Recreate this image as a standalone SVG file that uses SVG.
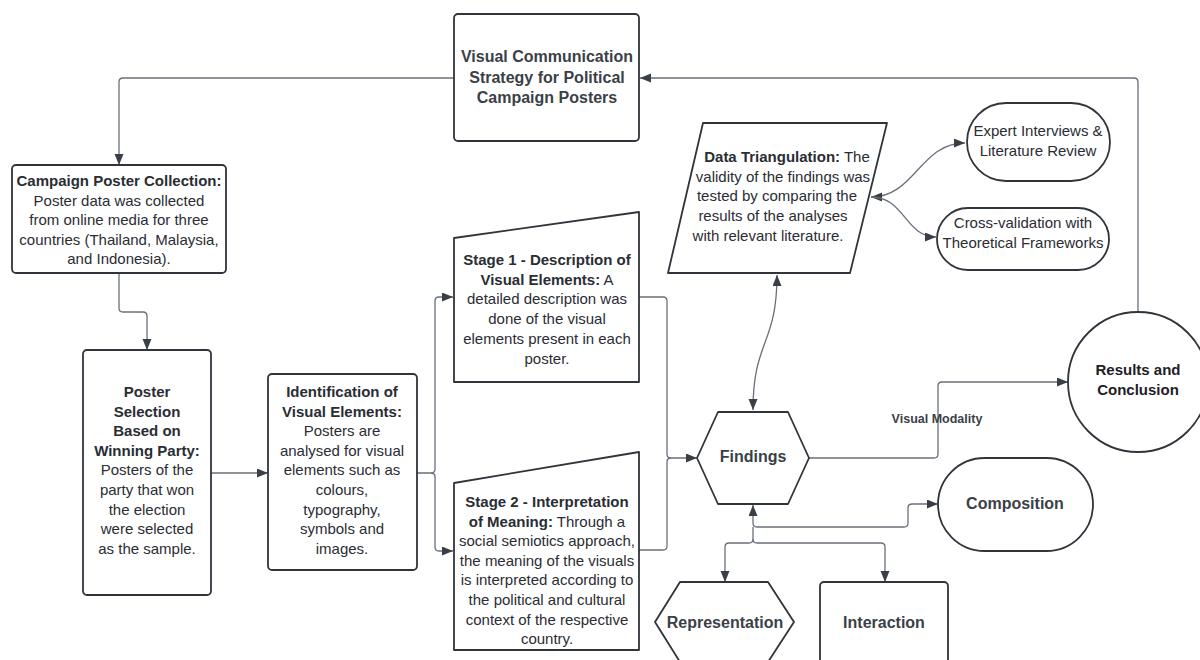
<svg xmlns="http://www.w3.org/2000/svg" width="1200" height="660" viewBox="0 0 1200 660">
<style>
.shape{fill:#fff;stroke:#30343b;stroke-width:1.8;stroke-linejoin:round}
.conn{fill:none;stroke:#6a707a;stroke-width:1.3}
text{font-family:"Liberation Sans",Arial,sans-serif;font-size:15px;fill:#2a2d33;text-anchor:middle}
.b{font-weight:bold}
.t16{font-size:16px;font-weight:bold;fill:#3b3f47}
.lbl{font-size:12.5px;font-weight:bold;fill:#3b3f47}
</style>
<defs>
<marker id="ah" markerUnits="userSpaceOnUse" markerWidth="12" markerHeight="10" refX="11" refY="4.5" orient="auto-start-reverse">
<path d="M0,0 L11,4.5 L0,9 z" fill="#3a3f47"/>
</marker>
</defs>
<g id="connectors">
<path class="conn" d="M454 78 L123 78 Q119 78 119 82 L119 165" marker-end="url(#ah)"/>
<path class="conn" d="M1138 312 L1138 82 Q1138 78 1134 78 L640 78" marker-end="url(#ah)"/>
<path class="conn" d="M119 273 L119 308 Q119 312 123 312 L143 312 Q147 312 147 316 L147 350" marker-end="url(#ah)"/>
<path class="conn" d="M211 473 L268 473" marker-end="url(#ah)"/>
<path class="conn" d="M417 473 L431 473 Q435 473 435 469 L435 301 Q435 297 439 297 L453 297" marker-end="url(#ah)"/>
<path class="conn" d="M431 473 Q435 473 435 477 L435 547 Q435 551 439 551 L453 551" marker-end="url(#ah)"/>
<path class="conn" d="M639 297 L663 297 Q667 297 667 301 L667 454 Q667 458 671 458 L697 458" marker-end="url(#ah)"/>
<path class="conn" d="M639 550 L663 550 Q667 550 667 546 L667 462 Q667 458 671 458"/>
<path class="conn" d="M753 410 C753 340 777 345 777 275" marker-start="url(#ah)" marker-end="url(#ah)"/>
<path class="conn" d="M871 197 C915 197 920 143 965 143" marker-start="url(#ah)" marker-end="url(#ah)"/>
<path class="conn" d="M871 197 C905 197 905 237 936 237" marker-end="url(#ah)"/>
<path class="conn" d="M809 458 L934 458 Q938 458 938 454 L938 386 Q938 382 942 382 L1068 382" marker-end="url(#ah)"/>
<path class="conn" d="M753 505 L753 523 Q753 527 757 527 L904 527 Q908 527 908 523 L908 508 Q908 504 912 504 L938 504" marker-start="url(#ah)" marker-end="url(#ah)"/>
<path class="conn" d="M753 527 L753 539 Q753 543 749 543 L729 543 Q725 543 725 547 L725 582" marker-end="url(#ah)"/>
<path class="conn" d="M753 539 Q753 543 757 543 L881 543 Q885 543 885 547 L885 582" marker-end="url(#ah)"/>
<text class="lbl" x="937" y="422.5">Visual Modality</text>
</g>
<g id="strategy">
<rect class="shape" x="454" y="14" width="185" height="127" rx="4"/>
<text class="t16" x="547" y="62">Visual Communication</text>
<text class="t16" x="547" y="82.5">Strategy for Political</text>
<text class="t16" x="547" y="103">Campaign Posters</text>
</g>
<g id="collection">
<rect class="shape" x="12" y="165" width="214" height="108" rx="4"/>
<text class="b" x="119" y="186">Campaign Poster Collection:</text>
<text x="119" y="205.6">Poster data was collected</text>
<text x="119" y="225.2">from online media for three</text>
<text x="119" y="244.8">countries (Thailand, Malaysia,</text>
<text x="119" y="264.4">and Indonesia).</text>
</g>
<g id="selection">
<rect class="shape" x="83" y="350" width="128" height="245" rx="4"/>
<text class="b" x="147" y="397">Poster</text>
<text class="b" x="147" y="416.6">Selection</text>
<text class="b" x="147" y="436.2">Based on</text>
<text class="b" x="147" y="455.8">Winning Party:</text>
<text x="147" y="475.4">Posters of the</text>
<text x="147" y="495">party that won</text>
<text x="147" y="514.6">the election</text>
<text x="147" y="534.2">were selected</text>
<text x="147" y="553.8">as the sample.</text>
</g>
<g id="identification">
<rect class="shape" x="268" y="374" width="149" height="196" rx="4"/>
<text class="b" x="342" y="397">Identification of</text>
<text class="b" x="342" y="416.6">Visual Elements:</text>
<text x="342" y="436.2">Posters are</text>
<text x="342" y="455.8">analysed for visual</text>
<text x="342" y="475.4">elements such as</text>
<text x="342" y="495">colours,</text>
<text x="342" y="514.6">typography,</text>
<text x="342" y="534.2">symbols and</text>
<text x="342" y="553.8">images.</text>
</g>
<g id="stage1">
<polygon class="shape" points="454,238 639,212 639,382 454,382"/>
<text class="b" x="547" y="265">Stage 1 - Description of</text>
<text x="547" y="284.7"><tspan class="b">Visual Elements:</tspan> A</text>
<text x="547" y="304.4">detailed description was</text>
<text x="547" y="324.1">done of the visual</text>
<text x="547" y="343.8">elements present in each</text>
<text x="547" y="363.5">poster.</text>
</g>
<g id="stage2">
<polygon class="shape" points="454,483 639,452 639,650 454,650"/>
<text class="b" x="547" y="507">Stage 2 - Interpretation</text>
<text x="547" y="526.6"><tspan class="b">of Meaning:</tspan> Through a</text>
<text x="547" y="546.2">social semiotics approach,</text>
<text x="547" y="565.8">the meaning of the visuals</text>
<text x="547" y="585.4">is interpreted according to</text>
<text x="547" y="605">the political and cultural</text>
<text x="547" y="624.6">context of the respective</text>
<text x="547" y="644.2">country.</text>
</g>
<g id="triangulation">
<polygon class="shape" points="703,123 887,123 850,273 668,273"/>
<text x="787" y="162"><tspan class="b">Data Triangulation:</tspan> The</text>
<text x="783" y="181.7">validity of the findings was</text>
<text x="777" y="201.4">tested by comparing the</text>
<text x="773" y="221.1">results of the analyses</text>
<text x="768" y="240.8">with relevant literature.</text>
</g>
<g id="expert">
<rect class="shape" x="967" y="103" width="143" height="78" rx="39"/>
<text x="1038" y="136">Expert Interviews &amp;</text>
<text x="1038" y="155.5">Literature Review</text>
</g>
<g id="crossval">
<rect class="shape" x="937" y="208" width="172" height="62" rx="31"/>
<text x="1023" y="228">Cross-validation with</text>
<text x="1023" y="248">Theoretical Frameworks</text>
</g>
<g id="results">
<circle class="shape" cx="1138" cy="382" r="70"/>
<text class="b" x="1138" y="374.5" style="fill:#1e2025">Results and</text>
<text class="b" x="1138" y="394.5" style="fill:#1e2025">Conclusion</text>
</g>
<g id="findings">
<polygon class="shape" points="697,458 718,412 788,412 809,458 788,504 718,504"/>
<text class="t16" x="753" y="461.5">Findings</text>
</g>
<g id="composition">
<rect class="shape" x="938" y="458" width="155" height="93" rx="46.5"/>
<text class="t16" x="1015" y="508.5">Composition</text>
</g>
<g id="representation">
<polygon class="shape" points="655,622 680,582 768,582 794,622 768,662 680,662"/>
<text class="t16" x="725" y="627.5">Representation</text>
</g>
<g id="interaction">
<rect class="shape" x="820" y="582" width="128" height="100" rx="4"/>
<text class="t16" x="884" y="627.5">Interaction</text>
</g>
</svg>
